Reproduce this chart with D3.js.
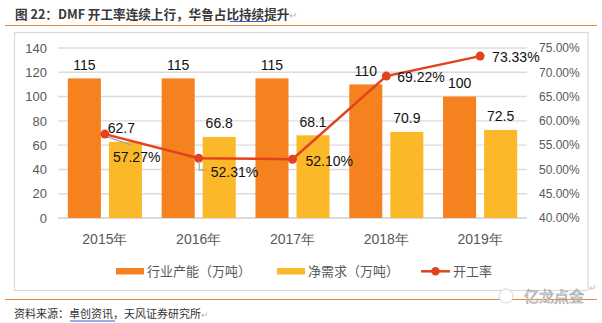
<!DOCTYPE html>
<html>
<head>
<meta charset="utf-8">
<script src="https://cdn.jsdelivr.net/npm/d3@7/dist/d3.min.js"></script>
<style>
html,body{margin:0;padding:0;background:#fff;}
svg{display:block;}
</style>
</head>
<body>
<svg id="chart" width="602" height="323"></svg>
<script>
const years = ["2015年","2016年","2017年","2018年","2019年"];
const capacity = [115,115,115,110,100];
const demand = [62.7,66.8,68.1,70.9,72.5];
const rate = [57.27,52.31,52.10,69.22,73.33];
const leftTicks = [0,20,40,60,80,100,120,140];
const rightTicks = [40,45,50,55,60,65,70,75];
const seriesNames = ["行业产能（万吨）","净需求（万吨）","开工率"];
const titleText = "图 22：DMF 开工率连续上行，华鲁占比持续提升";
const sourceText = "资料来源：卓创资讯，天风证券研究所";

const C_ORANGE = "#F5821F", C_YELLOW = "#FBB829", C_RED = "#E2431E";
const NUMF = "'Liberation Sans', Arial, sans-serif";
const CJKF = "'Noto Sans CJK SC', 'Liberation Sans', sans-serif";

const svg = d3.select("#chart");

// Header
svg.append("text").attr("x",15).attr("y",19)
  .attr("font-family",CJKF).attr("font-size",12.6).attr("font-weight","bold")
  .attr("fill","#3a3a3a").text(titleText);
svg.append("text").attr("x",289).attr("y",19)
  .attr("font-family",NUMF).attr("font-size",10).attr("fill","#bbb").text("↵");
svg.append("line").attr("x1",230).attr("x2",267).attr("y1",21.5).attr("y2",21.5)
  .attr("stroke","#2F5FD0").attr("stroke-width",1);
svg.append("line").attr("x1",5).attr("x2",597).attr("y1",25.5).attr("y2",25.5)
  .attr("stroke","#E8883A").attr("stroke-width",1.2);

// Chart frame
svg.append("rect").attr("x",14.5).attr("y",32.5).attr("width",573.5).attr("height",258)
  .attr("fill","#fff").attr("stroke","#d9d9d9").attr("stroke-width",1.2);

// Scales
const x0 = d3.scaleBand().domain(years).range([58,527]).padding(0);
const x1 = d3.scaleBand().domain(["cap","dem"]).range([0,x0.bandwidth()])
  .paddingInner(0.195).paddingOuter(0.24);
const yL = d3.scaleLinear().domain([0,140]).range([218,48]);
const yR = d3.scaleLinear().domain([40,75]).range([218,48]);

// Gridlines
svg.append("g").selectAll("line").data(leftTicks).join("line")
  .attr("x1",58).attr("x2",527)
  .attr("y1",d=>yL(d)).attr("y2",d=>yL(d))
  .attr("stroke",d=>d===0?"#cfcfcf":"#dcdcdc").attr("stroke-width",1.4);

// Left axis
const axL = d3.axisLeft(yL).tickValues(leftTicks).tickSize(0).tickPadding(0);
const gL = svg.append("g").attr("transform","translate(47,0)").call(axL);
gL.select(".domain").remove();
gL.selectAll("text").attr("font-family",NUMF).attr("font-size",13).attr("fill","#595959");

// Right axis
const axR = d3.axisRight(yR).tickValues(rightTicks).tickSize(0).tickPadding(0)
  .tickFormat(d=>d.toFixed(2)+"%");
const gR = svg.append("g").attr("transform","translate(539,0)").call(axR);
gR.select(".domain").remove();
gR.selectAll("text").attr("font-family",NUMF).attr("font-size",12).attr("fill","#595959");

// X axis
const axX = d3.axisBottom(x0).tickSize(0).tickPadding(0);
const gX = svg.append("g").attr("transform","translate(0,234)").call(axX);
gX.select(".domain").remove();
gX.selectAll("text").attr("font-family",NUMF).attr("font-size",14).attr("fill","#595959")
  .attr("dy","0.71em");

// Bars
const groups = svg.append("g").selectAll("g").data(years).join("g")
  .attr("transform",d=>`translate(${x0(d)},0)`);
groups.append("rect").attr("x",x1("cap")).attr("width",x1.bandwidth())
  .attr("y",(d,i)=>yL(capacity[i])).attr("height",(d,i)=>yL(0)-yL(capacity[i]))
  .attr("fill",C_ORANGE);
groups.append("rect").attr("x",x1("dem")).attr("width",x1.bandwidth())
  .attr("y",(d,i)=>yL(demand[i])).attr("height",(d,i)=>yL(0)-yL(demand[i]))
  .attr("fill",C_YELLOW);

// Line
const cx = d=>x0(d)+x0.bandwidth()/2;
const line = d3.line().x((d,i)=>cx(years[i])).y(d=>yR(d));
svg.append("path").datum(rate).attr("d",line)
  .attr("fill","none").attr("stroke",C_RED).attr("stroke-width",2.5);
svg.append("g").selectAll("circle").data(rate).join("circle")
  .attr("cx",(d,i)=>cx(years[i])).attr("cy",d=>yR(d)).attr("r",4.5).attr("fill",C_RED);

// Bar labels
groups.append("text").attr("x",x1("cap")+x1.bandwidth()/2)
  .attr("y",(d,i)=>yL(capacity[i])-8.5).attr("text-anchor","middle")
  .attr("font-family",NUMF).attr("font-size",14).attr("fill","#111")
  .text((d,i)=>capacity[i]);
groups.append("text").attr("x",(d,i)=>x1("dem")+x1.bandwidth()/2-(i===0?4:0))
  .attr("y",(d,i)=>yL(demand[i])-8.5).attr("text-anchor","middle")
  .attr("font-family",NUMF).attr("font-size",14).attr("fill","#111")
  .text((d,i)=>demand[i]);

// Rate labels (offsets from point)
const labOff = [[8,23],[12,14],[13,2],[11,1],[12,1]];
svg.append("g").selectAll("text").data(rate).join("text")
  .attr("x",(d,i)=>cx(years[i])+labOff[i][0])
  .attr("y",(d,i)=>yR(d)+labOff[i][1]+5)
  .attr("font-family",NUMF).attr("font-size",14).attr("fill","#111")
  .text(d=>d.toFixed(2)+"%");
// Leader lines
const p0 = [cx(years[0]), yR(rate[0])];
svg.append("line").attr("x1",p0[0]+3).attr("y1",p0[1]+3).attr("x2",p0[0]+27).attr("y2",p0[1]+11)
  .attr("stroke","#a6a6a6").attr("stroke-width",1.2);
const p1 = [cx(years[1]), yR(rate[1])];
svg.append("path").attr("d",`M${p1[0]+0.5},${p1[1]+3}V${p1[1]+12}H${p1[0]+8}`)
  .attr("fill","none").attr("stroke","#a6a6a6").attr("stroke-width",1.2);

// Legend
const lg = svg.append("g").attr("font-family",CJKF).attr("font-size",13).attr("fill","#595959");
lg.append("rect").attr("x",116).attr("y",268).attr("width",28).attr("height",6.5).attr("fill",C_ORANGE);
lg.append("text").attr("x",147).attr("y",276).text(seriesNames[0]);
lg.append("rect").attr("x",277).attr("y",268).attr("width",28).attr("height",6.5).attr("fill",C_YELLOW);
lg.append("text").attr("x",308).attr("y",276).text(seriesNames[1]);
lg.append("line").attr("x1",421).attr("x2",450).attr("y1",271.3).attr("y2",271.3)
  .attr("stroke",C_RED).attr("stroke-width",2.5);
lg.append("circle").attr("cx",435.5).attr("cy",271.3).attr("r",4.2).attr("fill",C_RED);
lg.append("text").attr("x",453).attr("y",276).text(seriesNames[2]);
svg.append("text").attr("x",589).attr("y",291)
  .attr("font-family",NUMF).attr("font-size",9).attr("fill","#bbb").text("↵");

// Bottom rule and source
svg.append("line").attr("x1",5).attr("x2",597).attr("y1",299.5).attr("y2",299.5)
  .attr("stroke","#E8883A").attr("stroke-width",1.2);
svg.append("text").attr("x",14).attr("y",318)
  .attr("font-family",CJKF).attr("font-size",11).attr("fill","#333").text(sourceText);
svg.append("text").attr("x",201).attr("y",318)
  .attr("font-family",NUMF).attr("font-size",9).attr("fill","#bbb").text("↵");
svg.append("line").attr("x1",70).attr("x2",115).attr("y1",321).attr("y2",321)
  .attr("stroke","#2F5FD0").attr("stroke-width",1);

// Watermark
const wm = svg.append("g");
wm.append("circle").attr("cx",506).attr("cy",296).attr("r",7).attr("fill","#fff").attr("stroke","#ccc").attr("stroke-width",0.8);
wm.append("text").attr("x",524).attr("y",302).attr("font-family",CJKF).attr("font-size",15)
  .attr("fill","#fff").attr("stroke","#999").attr("stroke-width",0.6).text("亿龙点金");
</script>
</body>
</html>
